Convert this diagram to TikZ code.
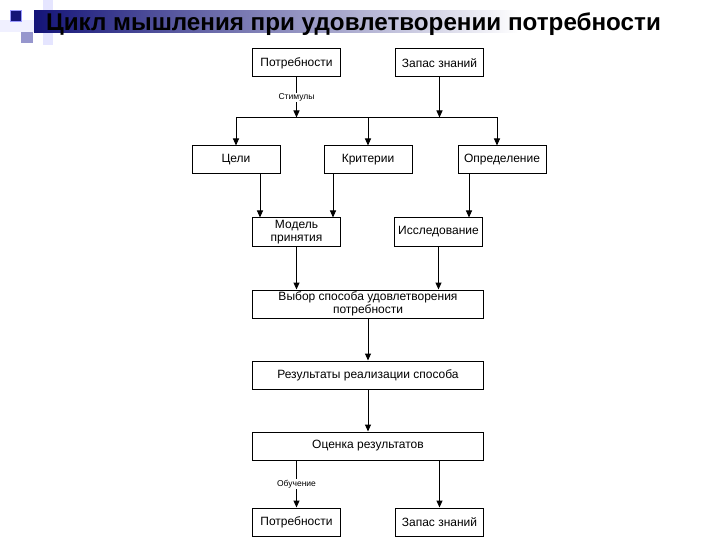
\documentclass[tikz,border=0pt]{standalone}
\usepackage{fontspec}
\setmainfont{Liberation Sans}
\usepackage{tikz}
\usetikzlibrary{arrows.meta, positioning, calc}
\definecolor{navy}{RGB}{20,20,120}
\definecolor{lavender}{RGB}{150,150,205}

\begin{document}
\begin{tikzpicture}[
  x=1pt, y=-1pt,
  box/.style={draw, line width=1pt, minimum height=28pt, minimum width=88pt,
              inner sep=1pt, align=center, font=\fontsize{12}{12.5}\selectfont},
  widebox/.style={box, minimum width=231pt},
  arrow/.style={-{Triangle[length=7pt, width=6pt]}, line width=1pt},
  link/.style={line width=1pt},
  tag/.style={fill=white, inner sep=1pt, font=\fontsize{8.5}{9}\selectfont},
  node distance=42pt and 54pt
]
  \useasboundingbox (0,0) rectangle (720,540);

  % Slide header
  \fill[blue!6] (0,20) rectangle (45,32);
  \fill[blue!10] (43,0) rectangle (53,45);
  \shade[left color=navy, middle color=gray!45, right color=white] (34,11) rectangle (520,33);
  \fill[navy, draw=blue!40] (10,10) rectangle (21,21);
  \fill[lavender] (21,32) rectangle (33,43);
  \node[anchor=base, font=\fontsize{24.2}{27}\selectfont\bfseries] (title) at (353.5,31)
    {Цикл мышления при удовлетворении потребности};

  % Nodes
  \node[box] (need) at (296.5,63) {Потребности};
  \node[box, right=of need] (know) {Запас знаний};
  \coordinate (top) at ($(need.south)!0.5!(know.south)$);
  \node[box, below=68pt of top] (crit) {Критерии};
  \node[box, left=43pt of crit] (goals) {Цели};
  \node[box, right=45pt of crit] (defn) {Определение};
  \coordinate (mtop) at (need |- crit.south);
  \node[box, below=43pt of mtop] (model) {Модель\\принятия};
  \node[box, right=53pt of model] (study) {Исследование};
  \coordinate (vtop) at (crit |- model.south);
  \node[widebox, below=43pt of vtop] (choice) {Выбор способа удовлетворения\\потребности};
  \node[widebox, below=of choice] (result) {Результаты реализации способа};
  \node[widebox, below=of result] (rate) {Оценка результатов};
  \coordinate (btop) at (need |- rate.south);
  \node[box, below=47pt of btop] (need2) {Потребности};
  \node[box, right=of need2] (know2) {Запас знаний};

  % Helper points
  \coordinate (bus) at ($(top)+(0,40)$);
  \coordinate (din) at ([xshift=-5pt]defn.north);
  \coordinate (m1) at ([xshift=8pt]model.north west);
  \coordinate (m2) at ([xshift=-8pt]model.north east);
  \coordinate (s1) at ([xshift=-14pt]study.north east);

  % Arrows
  \draw[arrow] (need) -- (need |- bus) node[midway, tag] {Стимулы};
  \draw[arrow] (know) -- (know |- bus);
  \draw[link] (goals |- bus) -- (din |- bus);
  \draw[arrow] (goals |- bus) -- (goals);
  \draw[arrow] (crit |- bus) -- (crit);
  \draw[arrow] (din |- bus) -- (din);
  \draw[arrow] (goals.south -| m1) -- (m1);
  \draw[arrow] (crit.south -| m2) -- (m2);
  \draw[arrow] (defn.south -| s1) -- (s1);
  \draw[arrow] (model) -- (model |- choice.north);
  \draw[arrow] (study) -- (study |- choice.north);
  \draw[arrow] (choice) -- (result);
  \draw[arrow] (result) -- (rate);
  \draw[arrow] (rate.south -| need2) -- (need2) node[midway, tag] {Обучение};
  \draw[arrow] (rate.south -| know2) -- (know2);
\end{tikzpicture}
\end{document}
